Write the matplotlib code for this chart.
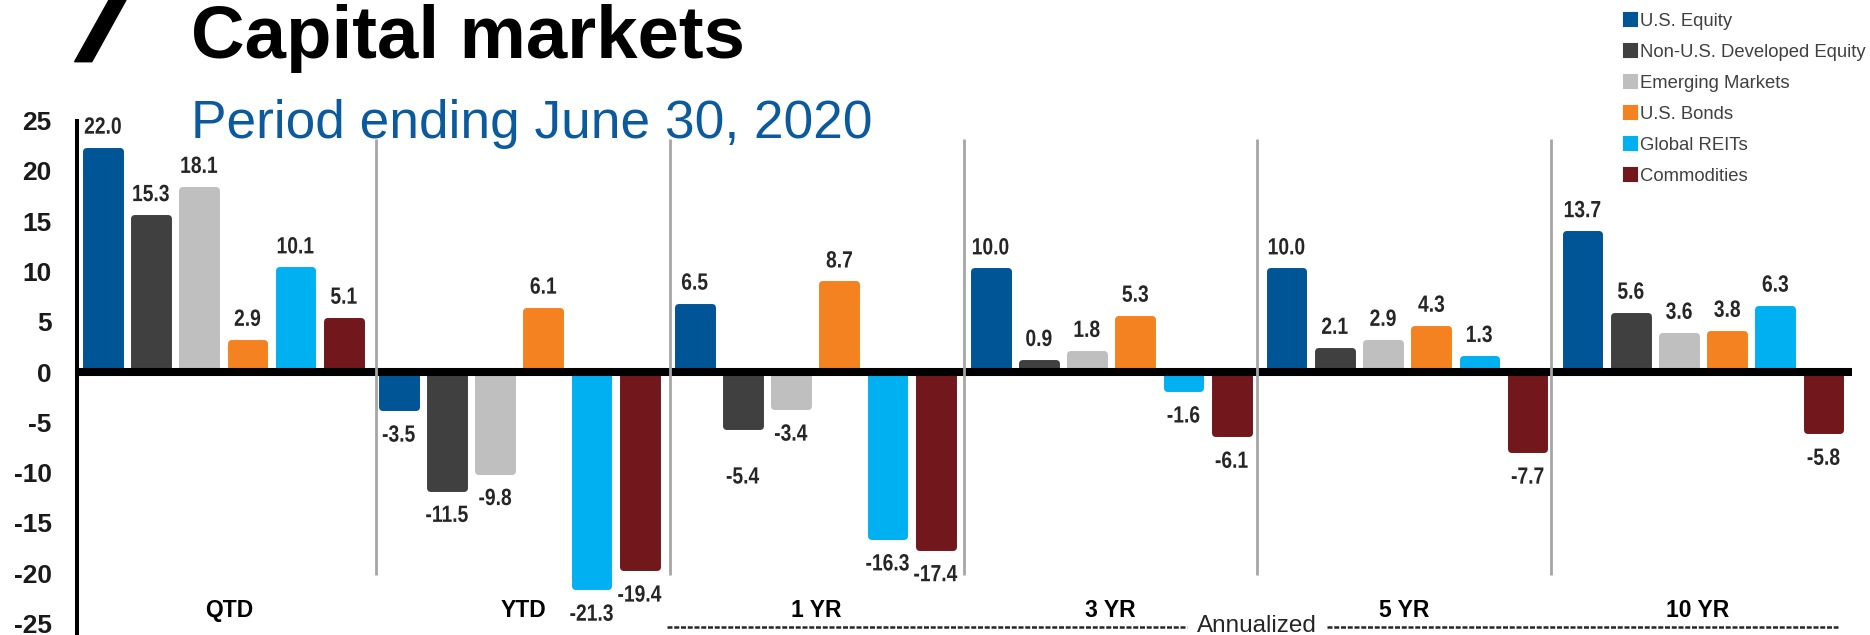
import matplotlib.pyplot as plt
from matplotlib.font_manager import FontProperties
from matplotlib.patches import Patch, Polygon, PathPatch
from matplotlib.textpath import TextPath
from matplotlib.transforms import Affine2D, ScaledTranslation

# rendimientos por periodo (%)
periodos = ['QTD', 'YTD', '1 YR', '3 YR', '5 YR', '10 YR']
clases = ['U.S. Equity', 'Non-U.S. Developed Equity', 'Emerging Markets',
          'U.S. Bonds', 'Global REITs', 'Commodities']
usEquity = [22.0, -3.5, 6.5, 10.0, 10.0, 13.7]
nonUsDeveloped = [15.3, -11.5, -5.4, 0.9, 2.1, 5.6]
emergingMarkets = [18.1, -9.8, -3.4, 1.8, 2.9, 3.6]
usBonds = [2.9, 6.1, 8.7, 5.3, 4.3, 3.8]
globalReits = [10.1, -21.3, -16.3, -1.6, 1.3, 6.3]
commodities = [5.1, -19.4, -17.4, -6.1, -7.7, -5.8]

colores = ['#005596', '#404040', '#BFBFBF', '#F58220', '#00B0F0', '#72181C']
series = [usEquity, nonUsDeveloped, emergingMarkets, usBonds, globalReits, commodities]

plt.rcParams['font.family'] = ['Liberation Sans', 'DejaVu Sans']
plt.rcParams['axes.unicode_minus'] = False

W, H = 1870, 635
fig = plt.figure(figsize=(W / 100, H / 100), dpi=100)
ax = fig.add_axes([76.8 / W, 0, (1851.5 - 76.8) / W, 1 - 120.5 / H])

pasoGrupo = 6.14      # separacion entre grupos de barras
pasoDivisor = 6.093   # separacion entre lineas grises
inicioDivisor = 6.172

# etiquetas en negrita angosta (texto comprimido en x)
propEtiqueta = FontProperties(family='Liberation Sans', weight='bold')


def etiquetaAngosta(x, v, bajar=0):
    texto = f'{v:.1f}'
    tp = TextPath((0, 0), texto, size=23.5, prop=propEtiqueta)
    ext = tp.get_extents()
    sx = 0.82
    tx = -(ext.x0 + ext.width / 2) * sx
    if v >= 0:
        ty = 17
    else:
        ty = -18 - ext.y1 - bajar
    tr = Affine2D().scale(sx, 1).translate(tx, ty) + ScaledTranslation(x, v, ax.transData)
    ax.add_artist(PathPatch(tp, transform=tr, facecolor='#262626', edgecolor='none',
                            clip_on=False, zorder=5))


# barras
for j, (valores, color) in enumerate(zip(series, colores)):
    xs = [0.5 + pasoGrupo * i + j for i in range(len(periodos))]
    ax.bar(xs, valores, width=0.7, color=color, edgecolor=color, linewidth=5,
           joinstyle='round', zorder=2)
    for i, (x, v) in enumerate(zip(xs, valores)):
        etiquetaAngosta(x, v, bajar=23 if (i, j) == (2, 1) else 0)

# linea del cero y divisores
ax.axhline(0, color='black', lw=5.8, zorder=3)
divisores = [inicioDivisor + pasoDivisor * k for k in range(5)]
ax.vlines(divisores, -20.18, 23.16, color='#A6A6A6', lw=2, zorder=4)

# nombres de periodo
bordes = [inicioDivisor + pasoDivisor * (k - 1) for k in range(7)]
for k, nombre in enumerate(periodos):
    ax.text((bordes[k] + bordes[k + 1]) / 2, -23.66, nombre, ha='center', va='center',
            fontsize=16.5, fontweight='bold', color='black')

# Annualized
centroAnual = divisores[3]
ax.text(centroAnual, -25.85, 'Annualized', ha='center', va='baseline', fontsize=17.5,
        color='#262626', clip_on=False)
ax.plot([divisores[1] - 0.07, centroAnual - 1.45], [-25.3, -25.3], color='#262626', lw=1.8,
        linestyle=(0, (2.0, 0.7)), clip_on=False)
ax.plot([centroAnual + 1.45, 36.5], [-25.3, -25.3], color='#262626', lw=1.8,
        linestyle=(0, (2.0, 0.7)), clip_on=False)

ax.set_xlim(-0.04, 36.78)
ax.set_ylim(-26.14, 25)
ax.set_yticks(range(-25, 30, 5))
ax.set_xticks([])
ax.tick_params(axis='y', length=0, pad=18, labelsize=19, labelcolor='#1A1A1A')
for lbl in ax.get_yticklabels():
    lbl.set_fontweight('bold')
for lado in ['top', 'right', 'bottom']:
    ax.spines[lado].set_visible(False)
ax.spines['left'].set_linewidth(2.9)
ax.spines['left'].set_color('black')
ax.patch.set_alpha(0)

# titulo
fig.add_artist(Polygon([[74.6 / W, 1 - 61.7 / H], [91.8 / W, 1 - 61.7 / H],
                        [126 / W, 1], [109 / W, 1]], closed=True,
                       transform=fig.transFigure, color='black'))
fig.text(191 / W, 1 - 58 / H, 'Capital markets', fontsize=53.6, fontweight='bold',
         ha='left', va='baseline', color='black')
fig.text(191 / W, 1 - 138 / H, 'Period ending June 30, 2020', fontsize=38.3,
         ha='left', va='baseline', color='#0B5A9E')

# leyenda
manijas = [Patch(facecolor=c, edgecolor=c, linewidth=1.5, joinstyle='round') for c in colores]
fig.legend(manijas, clases, loc='upper left', bbox_to_anchor=(1624 / W, 1 - 12.5 / H),
           frameon=False, fontsize=13.3, handlelength=0.7, handleheight=0.7,
           handletextpad=0.15, labelspacing=0.76, borderpad=0, borderaxespad=0,
           labelcolor='#404040')

plt.savefig('out.png', dpi=100)
